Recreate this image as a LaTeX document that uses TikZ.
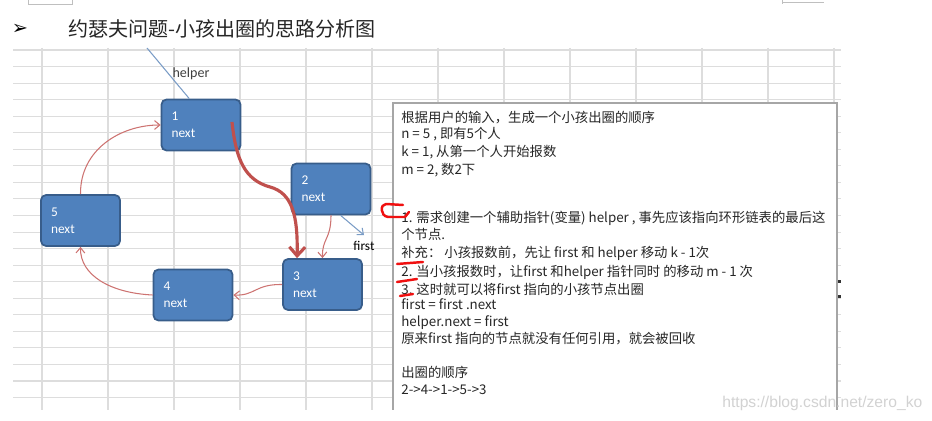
\documentclass[tikz,border=0pt]{standalone}
\usepackage{fontspec}
\setmainfont{Noto Sans CJK SC}
\newfontfamily\calibri{Carlito}
\newfontfamily\symfont{DejaVu Sans}
\newfontfamily\webfont{Liberation Sans}
\usetikzlibrary{positioning,arrows.meta}
\definecolor{kidblue}{HTML}{4F81BD}
\definecolor{kidedge}{HTML}{385D8A}
\definecolor{linkred}{HTML}{C0504D}
\definecolor{ptrblue}{HTML}{7A9CC6}
\definecolor{cellgray}{HTML}{DDDDDD}
\definecolor{penred}{HTML}{F01010}

\begin{document}
\begin{tikzpicture}[x=0.02cm,y=-0.02cm,
    kid/.style={draw=kidedge,fill=kidblue,line width=1pt,rounded corners=0.1cm,
      minimum width=1.58cm,minimum height=1.02cm,text width=1.18cm,align=left,
      inner xsep=0.2cm,text=white,font=\calibri\fontsize{7.6}{9.6}\selectfont},
    link/.style={draw=linkred!80,line width=0.6pt,-{Straight Barb[length=3pt,width=5pt]}},
    hop/.style={draw=linkred,line width=1.8pt,-{Straight Barb[length=5pt,width=9pt]}},
    ptr/.style={draw=ptrblue,line width=0.6pt},
    memo/.style={anchor=base west,inner sep=0pt,text=black!85,font=\fontsize{7.6}{9}\selectfont},
    pen/.style={draw=penred,line width=1.4pt,line cap=round,line join=round}]
  \useasboundingbox (0,0) rectangle (932,421);

  % sheet grid
  \draw[gray!50] (28,0) -- (28,4) -- (72,4) -- (72,0);
  \draw[gray!50] (782,0) -- (782,4) (782,2) -- (824,2);
  \foreach \gx in {0,...,12}
    \draw[cellgray,line width=0.6pt] ({42+66*\gx},48) -- ({42+66*\gx},410);
  \foreach \gy in {0,...,21}
    \draw[cellgray,line width=0.6pt] (13,{50+16.55*\gy}) -- (841,{50+16.55*\gy});

  % title
  \node[inner sep=0pt] (bullet) at (20,29) {\symfont\fontsize{11}{11}\selectfont ➢};
  \node[anchor=west,inner sep=0pt,text=black!85,font=\fontsize{11.4}{12}\selectfont] (title) at (68,29) {约瑟夫问题-小孩出圈的思路分析图};

  % children
  \node[kid] (n1) at (201,125) {1\\next};
  \node[kid] (n2) at (331,189) {2\\next};
  \node[kid] (n3) at (322.5,284.5) {3\\next};
  \node[kid] (n4) at (193,295) {4\\next};
  \node[kid] (n5) at (80.5,220.5) {5\\next};

  \draw[link] (n5.north) .. controls (80,150) and (120,125) .. (n1.west);
  \draw[link] (n4.west) .. controls (110,293) and (80,275) .. (n5.south);
  \draw[link] (n3.west) .. controls (255,284) and (255,296) .. (n4.east);
  \draw[link] (n2.south) .. controls (331,240) and (322,238) .. (n3.north);

  \coordinate (tail) at (232,122);
  \draw[hop] (tail) .. controls (236,160) and (245,180) .. (270,187)
    .. controls (292,193) and (298,215) .. (n3.134);

  % pointers
  \node[text=black!75,font=\calibri\fontsize{8}{8}\selectfont] (hlab) at (191,74) {helper};
  \coordinate (htop) at (147,48);
  \draw[ptr] (htop) -- (n1.114);
  \node[text=black,font=\calibri\fontsize{7.6}{8}\selectfont] (flab) at (364,246) {first};
  \draw[ptr,-{Straight Barb[length=3pt,width=5pt]}] (n2.-70) -- (flab.north);

  % note box
  \fill[white] (393,103) rectangle (837,410);
  \draw[gray!70,line width=0.6pt] (393,410) -- (393,103) -- (837,103) -- (837,410);
  \fill[black!80] (838,280) rectangle (841,283);
  \fill[black!80] (838,295) rectangle (841,298);

  \node[memo] (m1) at (401,123) {根据用户的输入，生成一个小孩出圈的顺序};
  \node[memo] (m2) at (401,139) {n = 5 , 即有5个人};
  \node[memo] (m3) at (401,157) {k = 1, 从第一个人开始报数};
  \node[memo] (m4) at (401,175) {m = 2, 数2下};
  \node[memo] (m5) at (401,223) {1. 需求创建一个辅助指针(变量) helper , 事先应该指向环形链表的最后这};
  \node[memo] (m6) at (401,240) {个节点.};
  \node[memo] (m7) at (401,258) {补充： 小孩报数前，先让 first 和 helper 移动 k - 1次};
  \node[memo] (m8) at (401,277) {2. 当小孩报数时，让first 和helper 指针同时 的移动 m - 1 次};
  \node[memo] (m9) at (401,295) {3. 这时就可以将first 指向的小孩节点出圈};
  \node[memo] (m10) at (401,310) {first = first .next};
  \node[memo] (m11) at (401,327) {helper.next = first};
  \node[memo] (m12) at (401,344) {原来first 指向的节点就没有任何引用，就会被回收};
  \node[memo] (m13) at (401,378) {出圈的顺序};
  \node[memo] (m14) at (401,395) {2->4->1->5->3};

  % red pen marks
  \draw[pen] (403,205) -- (386,204) .. controls (380,204) and (380,216) .. (388,217) -- (405,217) -- (409,212);
  \draw[pen] (397,264) -- (423,262);
  \draw[pen] (397,282) -- (417,279);
  \draw[pen] (400,296) -- (413,294);

  \node[anchor=west,inner sep=0pt,text=gray!35,font=\webfont\fontsize{8.9}{9}\selectfont] (wm) at (722,403) {https://blog.csdn.net/zero\_ko};
\end{tikzpicture}
\end{document}
